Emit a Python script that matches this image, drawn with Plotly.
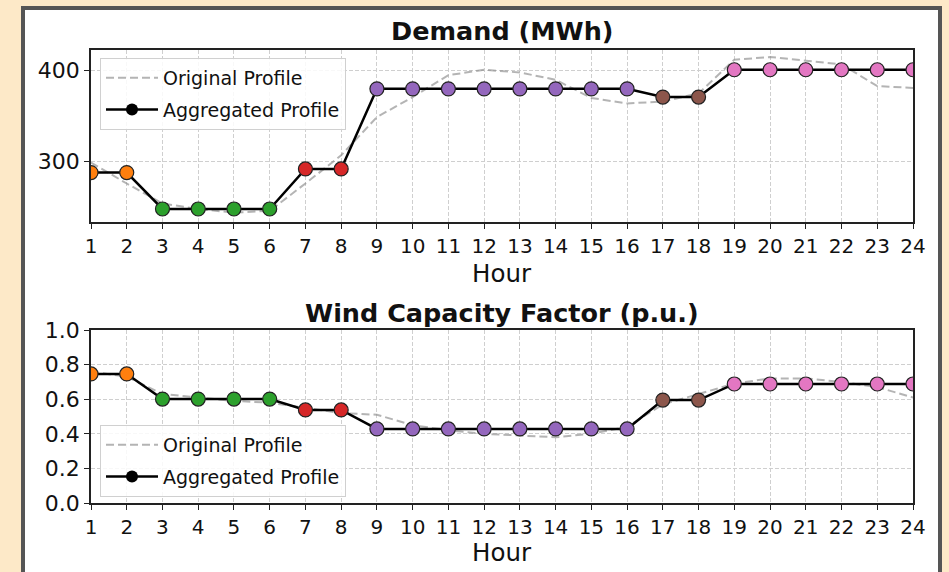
import plotly.graph_objects as go
from plotly.subplots import make_subplots

hours = list(range(1, 25))

demand_original = [299, 276, 254, 248, 244, 246, 276, 307, 349, 371, 395, 401,
                   398, 390, 370, 364, 366, 375, 412, 415, 411, 407, 383, 381]
demand_aggregated = [288, 288, 248, 248, 248, 248, 292, 292, 380, 380, 380, 380,
                     380, 380, 380, 380, 371, 371, 401, 401, 401, 401, 401, 401]

wind_original = [0.76, 0.73, 0.63, 0.61, 0.59, 0.58, 0.55, 0.52, 0.51, 0.45, 0.42, 0.40,
                 0.39, 0.38, 0.40, 0.44, 0.57, 0.63, 0.69, 0.72, 0.72, 0.70, 0.67, 0.61]
wind_aggregated = [0.746, 0.746, 0.601, 0.601, 0.601, 0.601, 0.538, 0.538, 0.428, 0.428, 0.428, 0.428,
                   0.428, 0.428, 0.428, 0.428, 0.595, 0.595, 0.688, 0.688, 0.688, 0.688, 0.688, 0.688]

cluster = [0, 0, 1, 1, 1, 1, 2, 2, 3, 3, 3, 3, 3, 3, 3, 3, 4, 4, 5, 5, 5, 5, 5, 5]
cluster_colors = ["#ff7f0e", "#2ca02c", "#d62728", "#9467bd", "#8c564b", "#e377c2"]
point_colors = [cluster_colors[c] for c in cluster]

W, H = 949, 572
ML, MR, MT, MB = 91, 36, 50, 69
PW = W - ML - MR
PH = H - MT - MB


def px_x(x):
    return (x - ML) / PW


def px_y(y):
    return (H - MB - y) / PH


fig = make_subplots(rows=2, cols=1)

panels = [
    (1, demand_original, demand_aggregated, "legend"),
    (2, wind_original, wind_aggregated, "legend2"),
]
for row, orig, agg, leg in panels:
    fig.add_trace(go.Scatter(
        x=hours, y=orig, mode="lines", name="Original Profile",
        line=dict(color="rgba(140,140,140,0.65)", width=2, dash="8px,4px"),
        legend=leg, legendgroup=f"o{row}"), row=row, col=1)
    fig.add_trace(go.Scatter(
        x=hours, y=agg, mode="lines+markers", name="Aggregated Profile",
        line=dict(color="black", width=2.5),
        marker=dict(color="black", size=12),
        legend=leg, legendgroup=f"a{row}"), row=row, col=1)
    fig.add_trace(go.Scatter(
        x=hours, y=agg, mode="markers", showlegend=False,
        marker=dict(color=point_colors, size=14, line=dict(color="#222", width=1.2))),
        row=row, col=1)

top_dom = [1 - (222 - MT) / PH, 1]
bot_dom = [0, 1 - (330 - MT) / PH]

axis_common = dict(
    showline=True, linecolor="#222", linewidth=1.5, mirror=True,
    ticks="outside", ticklen=5, tickwidth=1.2, tickcolor="#222",
    showgrid=True, gridcolor="#cfcfcf", gridwidth=1, griddash="4px,2px",
    zeroline=False,
)
xfont = dict(family="DejaVu Sans", size=20, color="#111")
yfont = dict(family="DejaVu Sans", size=22, color="#111")

fig.update_xaxes(range=[1, 24], tickmode="array", tickvals=hours,
                 ticktext=[str(h) for h in hours], tickfont=xfont, **axis_common)
fig.update_yaxes(tickfont=yfont, **axis_common)
fig.update_layout(
    xaxis=dict(domain=[0, 1]), xaxis2=dict(domain=[0, 1]),
    yaxis=dict(domain=top_dom, range=[233.7, 422.7], tickvals=[300, 400]),
    yaxis2=dict(domain=bot_dom, range=[0, 1], tickvals=[0, 0.2, 0.4, 0.6, 0.8, 1.0],
                tickformat=".1f"),
)

legend_common = dict(
    bgcolor="rgba(255,255,255,0.85)", bordercolor="#d0d0d0", borderwidth=1,
    font=dict(family="DejaVu Sans", size=19, color="#111"),
    xanchor="left", yanchor="top", tracegroupgap=4, itemwidth=52,
)
fig.update_layout(
    legend=dict(x=px_x(100), y=px_y(58), **legend_common),
    legend2=dict(x=px_x(100), y=px_y(425), **legend_common),
)

annos = [
    ("<b>Demand (MWh)</b>", 31, 25.5),
    ("<b>Wind Capacity Factor (p.u.)</b>", 313, 25.5),
    ("Hour", 273, 24.5),
    ("Hour", 552, 24.5),
]
for text, ypx, size in annos:
    fig.add_annotation(text=text, xref="paper", yref="paper", x=0.5, y=px_y(ypx),
                       xanchor="center", yanchor="middle", showarrow=False,
                       font=dict(family="DejaVu Sans", size=size, color="#111"))

fig.add_shape(type="rect", xref="paper", yref="paper", layer="below",
              x0=px_x(23), x1=px_x(940), y0=px_y(600), y1=px_y(8),
              fillcolor="white", line=dict(color="#555", width=4))

fig.update_layout(
    width=W, height=H, autosize=False,
    margin=dict(l=ML, r=MR, t=MT, b=MB),
    paper_bgcolor="#fde9c8", plot_bgcolor="white",
    font=dict(family="DejaVu Sans", color="#111"),
)

fig.write_html("out.html")
